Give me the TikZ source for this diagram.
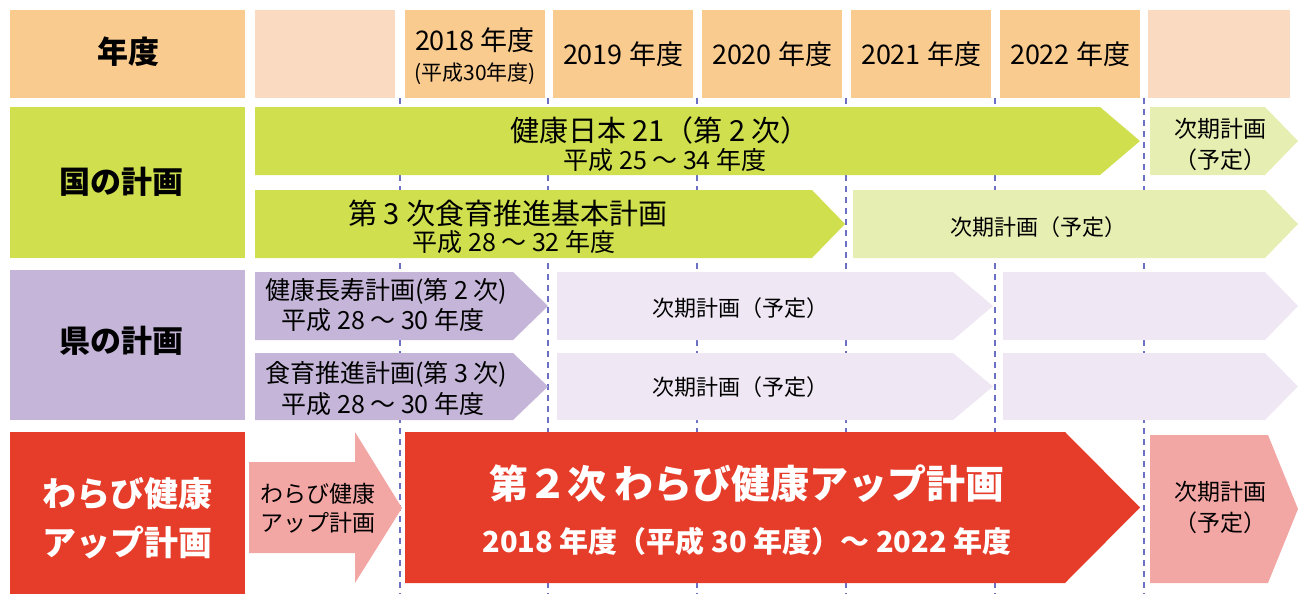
\documentclass[tikz,border=0pt]{standalone}
\usepackage{fontspec}
\setmainfont{Noto Sans CJK JP}
\definecolor{hdr}{HTML}{F9CB8F}
\definecolor{hdrpale}{HTML}{FADBC1}
\definecolor{grn}{HTML}{CFDF4E}
\definecolor{grnpale}{HTML}{E6EEB2}
\definecolor{pur}{HTML}{C5B6D9}
\definecolor{purpale}{HTML}{EFE8F4}
\definecolor{redc}{HTML}{E63C2A}
\definecolor{pink}{HTML}{F3A7A5}
\definecolor{dashc}{HTML}{6B70C4}
\newcommand\fsz[1]{\fontsize{#1}{#1}\selectfont}
% chevron: color, x-left, x-body-end, x-tip, y-top, y-bottom
\newcommand\chev[6]{\fill[#1] (#2,#5) -- (#3,#5) -- (#4,{(#5+#6)/2}) -- (#3,#6) -- (#2,#6) -- cycle;}
\tikzset{
  txt/.style={inner sep=0pt, align=center, text=black},
  lbl/.style={inner sep=0pt, align=center, font=\bfseries\fsz{31}},
  sep/.style={draw=dashc, line width=1.2pt, dash pattern=on 6pt off 5pt}
}
\begin{document}
\begin{tikzpicture}[x=1pt,y=-1pt]
\useasboundingbox (0,0) rectangle (1298,594);
% dashed separators
\foreach \xx/\nm in {400/a,548/b,697/c,846/d,995/e,1144/f}{
  \coordinate (t\nm) at (\xx,98);
  \coordinate (b\nm) at (\xx,594);
  \draw[sep] (t\nm) -- (b\nm);
}
% header row
\fill[hdr] (10,10) rectangle (245,98);
\fill[hdrpale] (255,10) rectangle (395,98);
\fill[hdr] (405,10) rectangle (545,98);
\fill[hdr] (553,10) rectangle (693,98);
\fill[hdr] (702,10) rectangle (842,98);
\fill[hdr] (851,10) rectangle (991,98);
\fill[hdr] (1000,10) rectangle (1140,98);
\fill[hdrpale] (1148,10) rectangle (1290,98);
\node[lbl] (hy) at (128,52) {年度};
\node[txt,font=\fsz{27}] (y18) at (475,40) {2018 年度};
\node[txt,font=\fsz{21}] (y18b) at (475,74) {(平成30年度)};
\node[txt,font=\fsz{27}] (y19) at (623,54) {2019 年度};
\node[txt,font=\fsz{27}] (y20) at (772,54) {2020 年度};
\node[txt,font=\fsz{27}] (y21) at (921,54) {2021 年度};
\node[txt,font=\fsz{27}] (y22) at (1070,54) {2022 年度};
% national plans
\fill[grn] (10,107) rectangle (245,258);
\node[lbl] (nat) at (121,182) {国の計画};
\chev{grn}{255}{1100}{1140}{107}{175}
\chev{grnpale}{1150}{1265}{1298}{107}{175}
\chev{grn}{255}{812}{845}{190}{258}
\chev{grnpale}{853}{1265}{1298}{190}{258}
\node[txt,font=\fsz{29}] (n1) at (660,130) {健康日本 21（第 2 次）};
\node[txt,font=\fsz{25}] (n1b) at (665,160) {平成 25 ～ 34 年度};
\node[txt,font=\fsz{23}] (n1n) at (1220,129) {次期計画};
\node[txt,font=\fsz{23}] (n1nb) at (1220,160) {（予定）};
\node[txt,font=\fsz{29}] (n2) at (508,213) {第 3 次食育推進基本計画};
\node[txt,font=\fsz{25}] (n2b) at (514,242) {平成 28 ～ 32 年度};
\node[txt,font=\fsz{22}] (n2n) at (1038,227) {次期計画（予定）};
% prefectural plans
\fill[pur] (10,270) rectangle (245,420);
\node[lbl] (pref) at (121,341) {県の計画};
\chev{pur}{255}{513}{548}{272}{340}
\chev{purpale}{557}{953}{993}{272}{340}
\chev{purpale}{1003}{1265}{1298}{272}{340}
\chev{pur}{255}{513}{548}{353}{420}
\chev{purpale}{557}{953}{993}{353}{420}
\chev{purpale}{1003}{1265}{1298}{353}{420}
\node[txt,font=\fsz{25}] (p1) at (386,291) {健康長寿計画(第 2 次)};
\node[txt,font=\fsz{25}] (p1b) at (383,320) {平成 28 ～ 30 年度};
\node[txt,font=\fsz{22}] (p1n) at (740,308) {次期計画（予定）};
\node[txt,font=\fsz{25}] (p2) at (386,374) {食育推進計画(第 3 次)};
\node[txt,font=\fsz{25}] (p2b) at (383,404) {平成 28 ～ 30 年度};
\node[txt,font=\fsz{22}] (p2n) at (740,387) {次期計画（予定）};
% warabi plan
\fill[redc] (10,432) rectangle (245,594);
\node[lbl,text=white,font=\bfseries\fsz{34}] (w1) at (127,494) {わらび健康};
\node[lbl,text=white,font=\bfseries\fsz{34}] (w2) at (127,543) {アップ計画};
\fill[pink] (249,462) -- (355,462) -- (355,432) -- (402,508) -- (355,583) -- (355,553) -- (249,553) -- cycle;
\node[txt,font=\fsz{23}] (wp1) at (318,494) {わらび健康};
\node[txt,font=\fsz{23}] (wp2) at (318,523) {アップ計画};
\chev{redc}{405}{1065}{1140}{432}{583}
\node[txt,text=white,font=\bfseries\fsz{39}] (wb1) at (747,484) {第２次 わらび健康アップ計画};
\node[txt,text=white,font=\bfseries\fsz{29}] (wb2) at (747,541) {2018 年度（平成 30 年度）～ 2022 年度};
\chev{pink}{1150}{1268}{1298}{435}{583}
\node[txt,font=\fsz{23}] (wn1) at (1220,492) {次期計画};
\node[txt,font=\fsz{23}] (wn2) at (1220,523) {（予定）};
\end{tikzpicture}
\end{document}
